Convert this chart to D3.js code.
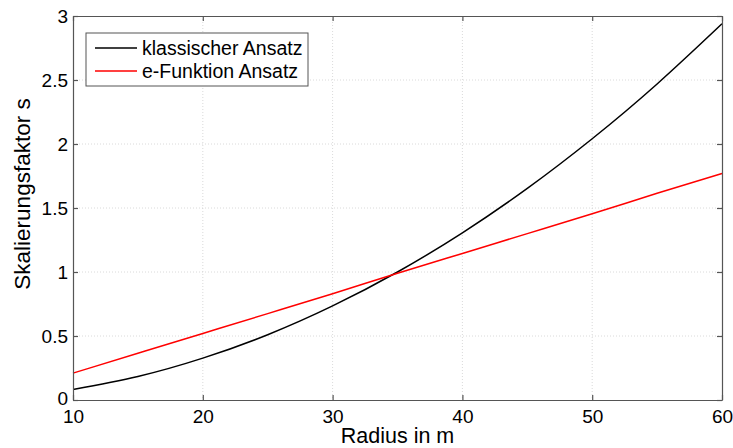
<!DOCTYPE html>
<html><head><meta charset="utf-8">
<script src="https://cdn.jsdelivr.net/npm/d3@7"></script>
<style>
body{margin:0;background:#fff;}
svg{font-family:"Liberation Sans",Arial,Helvetica,sans-serif;}
</style></head>
<body><svg id="c" width="733" height="448"></svg>
<script>
const radius = [10,15,20,25,30,35,40,45,50,55,60];
const klassisch = [0.082,0.184,0.327,0.51,0.735,1.00,1.306,1.653,2.041,2.469,2.939];
const efunktion = [0.21,0.365,0.52,0.675,0.83,0.99,1.145,1.30,1.455,1.615,1.77];
const xTicks = [10,20,30,40,50,60];
const yTicks = [0,0.5,1,1.5,2,2.5,3];
const seriesNames = ["klassischer Ansatz","e-Funktion Ansatz"];
const seriesColors = ["#000000","#ff0000"];

const svg = d3.select("#c");
const L=73,R=722,T=16,B=400;
const x = d3.scaleLinear().domain([10,60]).range([L,R]);
const y = d3.scaleLinear().domain([0,3]).range([B,T]);

// grid
const g = svg.append("g");
g.selectAll(".gx").data(xTicks.slice(1,-1)).enter().append("line")
 .attr("x1",d=>x(d)).attr("x2",d=>x(d)).attr("y1",T).attr("y2",B)
 .attr("stroke","#d0d0d0").attr("stroke-width",0.8).attr("stroke-dasharray","1,2");
g.selectAll(".gy").data(yTicks.slice(1,-1)).enter().append("line")
 .attr("y1",d=>y(d)).attr("y2",d=>y(d)).attr("x1",L).attr("x2",R)
 .attr("stroke","#d0d0d0").attr("stroke-width",0.8).attr("stroke-dasharray","1,2");

// lines
const line = d3.line().x((d,i)=>x(radius[i])).y(d=>y(d)).curve(d3.curveNatural);
[klassisch,efunktion].forEach((s,k)=>{
  svg.append("path").datum(s).attr("d",line).attr("fill","none")
   .attr("stroke",seriesColors[k]).attr("stroke-width",1.5);
});

// axes
const ax = svg.append("g").attr("transform",`translate(0,${B})`)
 .call(d3.axisBottom(x).tickValues(xTicks).tickSizeInner(-5).tickSizeOuter(0).tickPadding(9).tickFormat(d3.format("d")));
const ay = svg.append("g").attr("transform",`translate(${L},0)`)
 .call(d3.axisLeft(y).tickValues(yTicks).tickSizeInner(-5).tickSizeOuter(0).tickPadding(5).tickFormat(d=>String(d)));
const axT = svg.append("g").attr("transform",`translate(0,${T})`)
 .call(d3.axisTop(x).tickValues(xTicks).tickSizeInner(-5).tickSizeOuter(0).tickFormat(""));
const ayR = svg.append("g").attr("transform",`translate(${R},0)`)
 .call(d3.axisRight(y).tickValues(yTicks).tickSizeInner(-5).tickSizeOuter(0).tickFormat(""));
[ax,ay,axT,ayR].forEach(a=>{
  a.selectAll("path,line").attr("stroke","#555").attr("stroke-width",1.2);
  a.selectAll("text").attr("fill","#000").attr("font-size",19).attr("font-family","Liberation Sans, Arial, sans-serif");
});
ax.selectAll("text").attr("dy","0.72em");
ay.selectAll("text").filter(d=>d===0).attr("dy","0.25em");

// axis labels
svg.append("text").attr("x",(L+R)/2).attr("y",443).attr("text-anchor","middle")
 .attr("font-size",21.5).text("Radius in m");
svg.append("text").attr("transform",`translate(30,194) rotate(-90)`).attr("text-anchor","middle")
 .attr("font-size",22.5).text("Skalierungsfaktor s");

// legend
const lg = svg.append("g");
lg.append("rect").attr("x",86).attr("y",33).attr("width",222).attr("height",53)
 .attr("fill","#fff").attr("stroke","#555").attr("stroke-width",1);
seriesNames.forEach((n,i)=>{
  const yy = 48 + i*23;
  lg.append("line").attr("x1",95).attr("x2",137).attr("y1",yy).attr("y2",yy)
   .attr("stroke",seriesColors[i]).attr("stroke-width",1.5);
  lg.append("text").attr("x",142).attr("y",yy).attr("dy","0.35em").attr("font-size",19.5).text(n);
});
</script></body></html>
